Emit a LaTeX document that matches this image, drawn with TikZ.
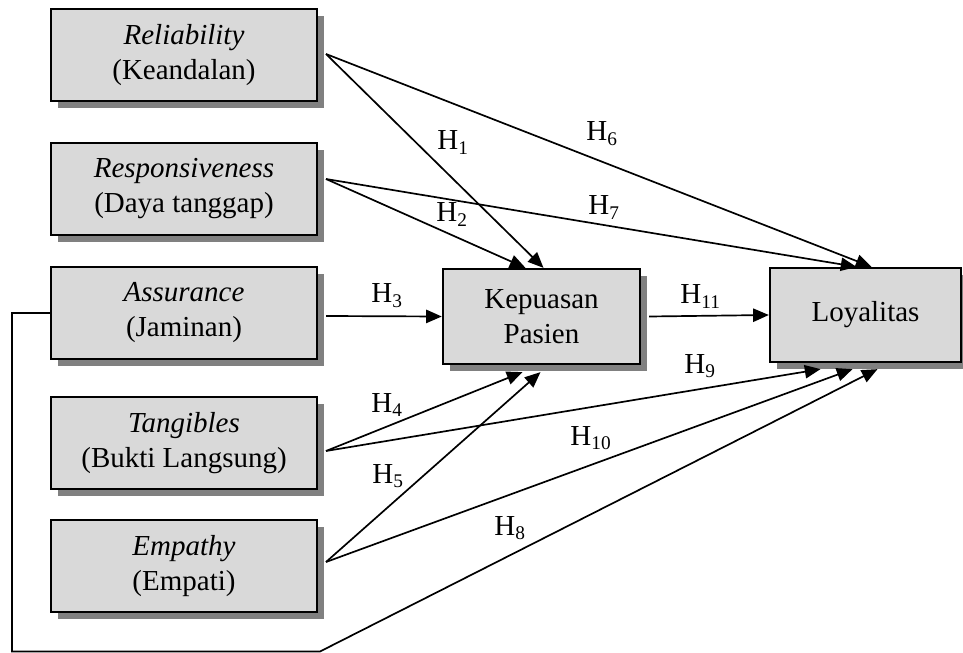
\documentclass[tikz,border=0pt]{standalone}
\usepackage{fontspec}
\setmainfont{Liberation Serif}
\usetikzlibrary{arrows.meta, positioning, calc, shadows}

\tikzset{
    factor/.style={draw, fill=black!15, line width=0.95pt, align=center,
        minimum width=110pt, minimum height=38pt, inner sep=2pt,
        drop shadow={shadow xshift=3pt, shadow yshift=-3pt, fill=black!50, opacity=1}},
    hyp/.style={-{Triangle[length=6.5pt, width=5.5pt]}, line width=0.7pt},
    hlabel/.style={anchor=base west, inner sep=0pt}
}

\begin{document}
\begin{tikzpicture}[x=0.414pt, y=-0.414pt, font=\fontsize{12}{14.5}\selectfont]
        \useasboundingbox (0,0) rectangle (963,653);
        % Service quality dimensions
        \node[factor] (rel) at (184,55) {\textit{Reliability}\\(Keandalan)};
        \node[factor] (res) at (184,189) {\textit{Responsiveness}\\(Daya tanggap)};
        \node[factor] (ass) at (184,313) {\textit{Assurance}\\(Jaminan)};
        \node[factor] (tan) at (184,443) {\textit{Tangibles}\\(Bukti Langsung)};
        \node[factor] (emp) at (184,566) {\textit{Empathy}\\(Empati)};
        % Mediator and outcome
        \node[factor, minimum width=81.6pt, minimum height=39.3pt] (kep) at (541.5,316.5) {Kepuasan\\Pasien};
        \node[factor, minimum width=79.1pt, minimum height=38.9pt] (loy) at (865.5,315) {Loyalitas};

        \coordinate (rel-out) at ($(rel.east)+(8,-1)$);
        \coordinate (res-out) at ($(res.east)+(8,-10)$);
        \coordinate (tan-out) at ($(tan.east)+(8,8)$);
        \coordinate (emp-out) at ($(emp.east)+(8,-4)$);
        \coordinate (fb1) at (12,651.5);
        \coordinate (fb2) at (320,651.5);

        % Hypotheses
        \draw[hyp] (rel-out) -- ($(kep.north)+(2,0)$);
        \draw[hyp] (rel-out) -- ($(loy.north)+(6,0)$);
        \draw[hyp] (res-out) -- ($(kep.north)+(-16,0)$);
        \draw[hyp] (res-out) -- ($(loy.north)+(-9,0)$);
        \draw[hyp] ($(ass.east)+(8,3)$) -- (kep.west);
        \draw[hyp] ($(kep.east)+(8,0)$) -- (loy.west);
        \draw[hyp] (tan-out) -- ($(kep.south)+(-19,7)$);
        \draw[hyp] (tan-out) -- ($(loy.south)+(-45,6)$);
        \draw[hyp] (emp-out) -- ($(kep.south)+(-1,7)$);
        \draw[hyp] (emp-out) -- ($(loy.south)+(-13,6)$);
        \draw[hyp] (ass.west) -| (fb1) -- (fb2) -- ($(loy.south)+(12,6)$);

        \node[hlabel] (h1) at (437,150) {H\textsubscript{1}};
        \node[hlabel] (h2) at (436,222) {H\textsubscript{2}};
        \node[hlabel] (h3) at (371,303) {H\textsubscript{3}};
        \node[hlabel] (h4) at (371,412) {H\textsubscript{4}};
        \node[hlabel] (h5) at (372,483) {H\textsubscript{5}};
        \node[hlabel] (h6) at (586,141) {H\textsubscript{6}};
        \node[hlabel] (h7) at (588,215) {H\textsubscript{7}};
        \node[hlabel] (h8) at (494,535) {H\textsubscript{8}};
        \node[hlabel] (h9) at (684,373) {H\textsubscript{9}};
        \node[hlabel] (h10) at (570,445) {H\textsubscript{10}};
        \node[hlabel] (h11) at (680,304) {H\textsubscript{11}};
\end{tikzpicture}
\end{document}
